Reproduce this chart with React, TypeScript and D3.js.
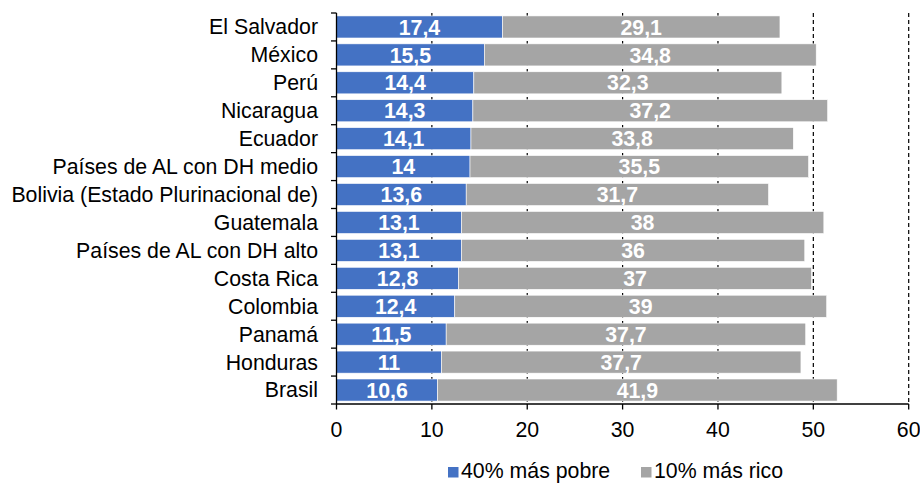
import React, { useEffect } from "react";
import * as d3 from "d3";

const categories = [
  "El Salvador",
  "México",
  "Perú",
  "Nicaragua",
  "Ecuador",
  "Países de AL con DH medio",
  "Bolivia (Estado Plurinacional de)",
  "Guatemala",
  "Países de AL con DH alto",
  "Costa Rica",
  "Colombia",
  "Panamá",
  "Honduras",
  "Brasil",
];
const poorest40 = [17.4, 15.5, 14.4, 14.3, 14.1, 14, 13.6, 13.1, 13.1, 12.8, 12.4, 11.5, 11, 10.6];
const richest10 = [29.1, 34.8, 32.3, 37.2, 33.8, 35.5, 31.7, 38, 36, 37, 39, 37.7, 37.7, 41.9];
const xTicks = [0, 10, 20, 30, 40, 50, 60];
const seriesNames = ["40% más pobre", "10% más rico"];
const seriesColors = ["#4472C4", "#A5A5A5"];

const W = 920;
const H = 483;
const FONT = "Arial, 'Liberation Sans', sans-serif";
const FS = 21.3;

const fmt = (v: number) => String(v).replace(".", ",");

export default function App() {
  useEffect(() => {
    document.body.style.margin = "0";
  }, []);

  const x = d3.scaleLinear().domain([0, 60]).range([336.5, 908.7]);
  const y = d3.scaleBand<string>().domain(categories).range([13, 404]).paddingInner(0.21).paddingOuter(0.105);
  const step = y.step();
  const top = 13;
  const bottom = 404;

  const stacked = categories.map((c, i) => {
    const a = poorest40[i];
    const b = richest10[i];
    return [
      { key: 0, c, x0: 0, x1: a, v: a },
      { key: 1, c, x0: a, x1: a + b, v: b },
    ];
  });

  return (
    <svg width={W} height={H} style={{ display: "block", background: "#fff" }} fontFamily={FONT}>
      {xTicks.filter((t) => t > 0).map((t) => (
        <line key={"g" + t} x1={x(t)} x2={x(t)} y1={top} y2={bottom} stroke="#000" strokeWidth={1.2} strokeDasharray="4,3" />
      ))}
      {stacked.map((segs) =>
        segs.map((s) => (
          <rect
            key={s.c + s.key}
            x={x(s.x0)}
            y={y(s.c)!}
            width={x(s.x1) - x(s.x0)}
            height={y.bandwidth()}
            fill={seriesColors[s.key]}
            stroke="#fff"
            strokeWidth={0.6}
          />
        ))
      )}
      {stacked.map((segs) =>
        segs.map((s) => (
          <text
            key={"l" + s.c + s.key}
            x={(x(s.x0) + x(s.x1)) / 2}
            y={y(s.c)! + y.bandwidth() / 2}
            dy="0.36em"
            textAnchor="middle"
            fill="#fff"
            fontWeight="bold"
            fontSize={FS}
          >
            {fmt(s.v)}
          </text>
        ))
      )}
      <line x1={x(0)} x2={x(0)} y1={top} y2={bottom} stroke="#000" strokeWidth={1.3} />
      {d3.range(categories.length + 1).map((k) => (
        <line key={"yt" + k} x1={x(0) - 5.5} x2={x(0)} y1={top + k * step} y2={top + k * step} stroke="#000" strokeWidth={1.3} />
      ))}
      {categories.map((c) => (
        <text key={"c" + c} x={318} y={y(c)! + y.bandwidth() / 2} dy="0.35em" textAnchor="end" fontSize={FS} fill="#000">
          {c}
        </text>
      ))}
      <line x1={x(0)} x2={x(60)} y1={bottom} y2={bottom} stroke="#000" strokeWidth={1.3} />
      {xTicks.map((t) => (
        <g key={"xt" + t}>
          <line x1={x(t)} x2={x(t)} y1={bottom} y2={bottom + 5.5} stroke="#000" strokeWidth={1.3} />
          <text x={x(t)} y={437} textAnchor="middle" fontSize={FS} fill="#000">
            {t}
          </text>
        </g>
      ))}
      {seriesNames.map((n, i) => {
        const lx = i === 0 ? 448 : 641;
        return (
          <g key={"lg" + i}>
            <rect x={lx} y={467} width={10.5} height={10.5} fill={seriesColors[i]} />
            <text x={lx + 13} y={478} fontSize={FS} fill="#000">
              {n}
            </text>
          </g>
        );
      })}
    </svg>
  );
}
